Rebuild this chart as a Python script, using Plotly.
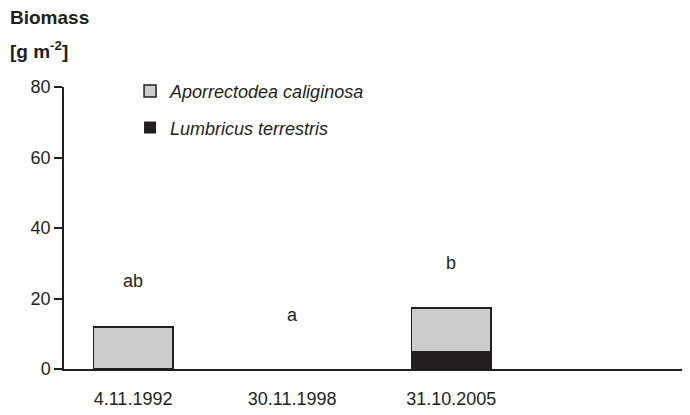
import plotly.graph_objects as go

dates = ['4.11.1992', '30.11.1998', '31.10.2005']
aporrectodea = [11.9, 0, 12.5]
lumbricus = [0, 0, 4.8]
letters = ['ab', 'a', 'b']
letter_y = [25.0, 15.3, 30.0]
y_ticks = [0, 20, 40, 60, 80]

font = dict(family='Liberation Sans, Arial, sans-serif', size=18, color='#231f20')

# no outline on zero-height bars
lumb_lw = [1.5 if v > 0 else 0 for v in lumbricus]
apor_lw = [1.5 if v > 0 else 0 for v in aporrectodea]

fig = go.Figure()
fig.add_trace(go.Bar(x=dates, y=lumbricus, name='Lumbricus terrestris',
                     marker=dict(color='#231f20', line=dict(color='#231f20', width=lumb_lw)),
                     width=0.5, legendgroup='l', legendrank=2))
fig.add_trace(go.Bar(x=dates, y=aporrectodea, name='Aporrectodea caliginosa',
                     marker=dict(color='#cccccc', line=dict(color='#231f20', width=apor_lw)),
                     width=0.5, legendgroup='a', legendrank=1))

for d, t, yy in zip(dates, letters, letter_y):
    fig.add_annotation(x=d, y=yy, text=t, showarrow=False, font=font)

title_font = dict(family=font['family'], size=19, color='#231f20')
fig.add_annotation(xref='paper', yref='paper', x=-0.0895, y=1.245, xanchor='left', yanchor='middle',
                   text='<b>Biomass</b>', showarrow=False, font=title_font)
fig.add_annotation(xref='paper', yref='paper', x=-0.0895, y=1.131, xanchor='left', yanchor='middle',
                   text='<b>[g m<sup>-2</sup>]</b>', showarrow=False, font=title_font)

# page has an 8px body margin, so the figure is sized to fit the window
fig.update_layout(
    width=682, height=407,
    margin=dict(l=56, r=0, t=79, b=46),
    barmode='stack',
    plot_bgcolor='white', paper_bgcolor='white',
    font=font,
    showlegend=True,
    legend=dict(x=0.1055, y=1.05, xanchor='left', yanchor='top', traceorder='grouped',
                tracegroupgap=10, font=dict(family=font['family'], size=18, color='#231f20', style='italic'),
                bgcolor='rgba(0,0,0,0)', itemwidth=30),
    xaxis=dict(range=[-0.434, 3.5], showline=True, linecolor='#231f20', linewidth=1.5,
               ticks='', showgrid=False, ticklabelstandoff=13, layer='above traces'),
    yaxis=dict(range=[0, 80], tickvals=y_ticks, showline=True, linecolor='#231f20', linewidth=1.5,
               ticks='outside', ticklen=8, tickwidth=1.5, tickcolor='#231f20', showgrid=False,
               zeroline=False, ticksuffix='\u00a0'),
)

fig.write_html("out.html")
